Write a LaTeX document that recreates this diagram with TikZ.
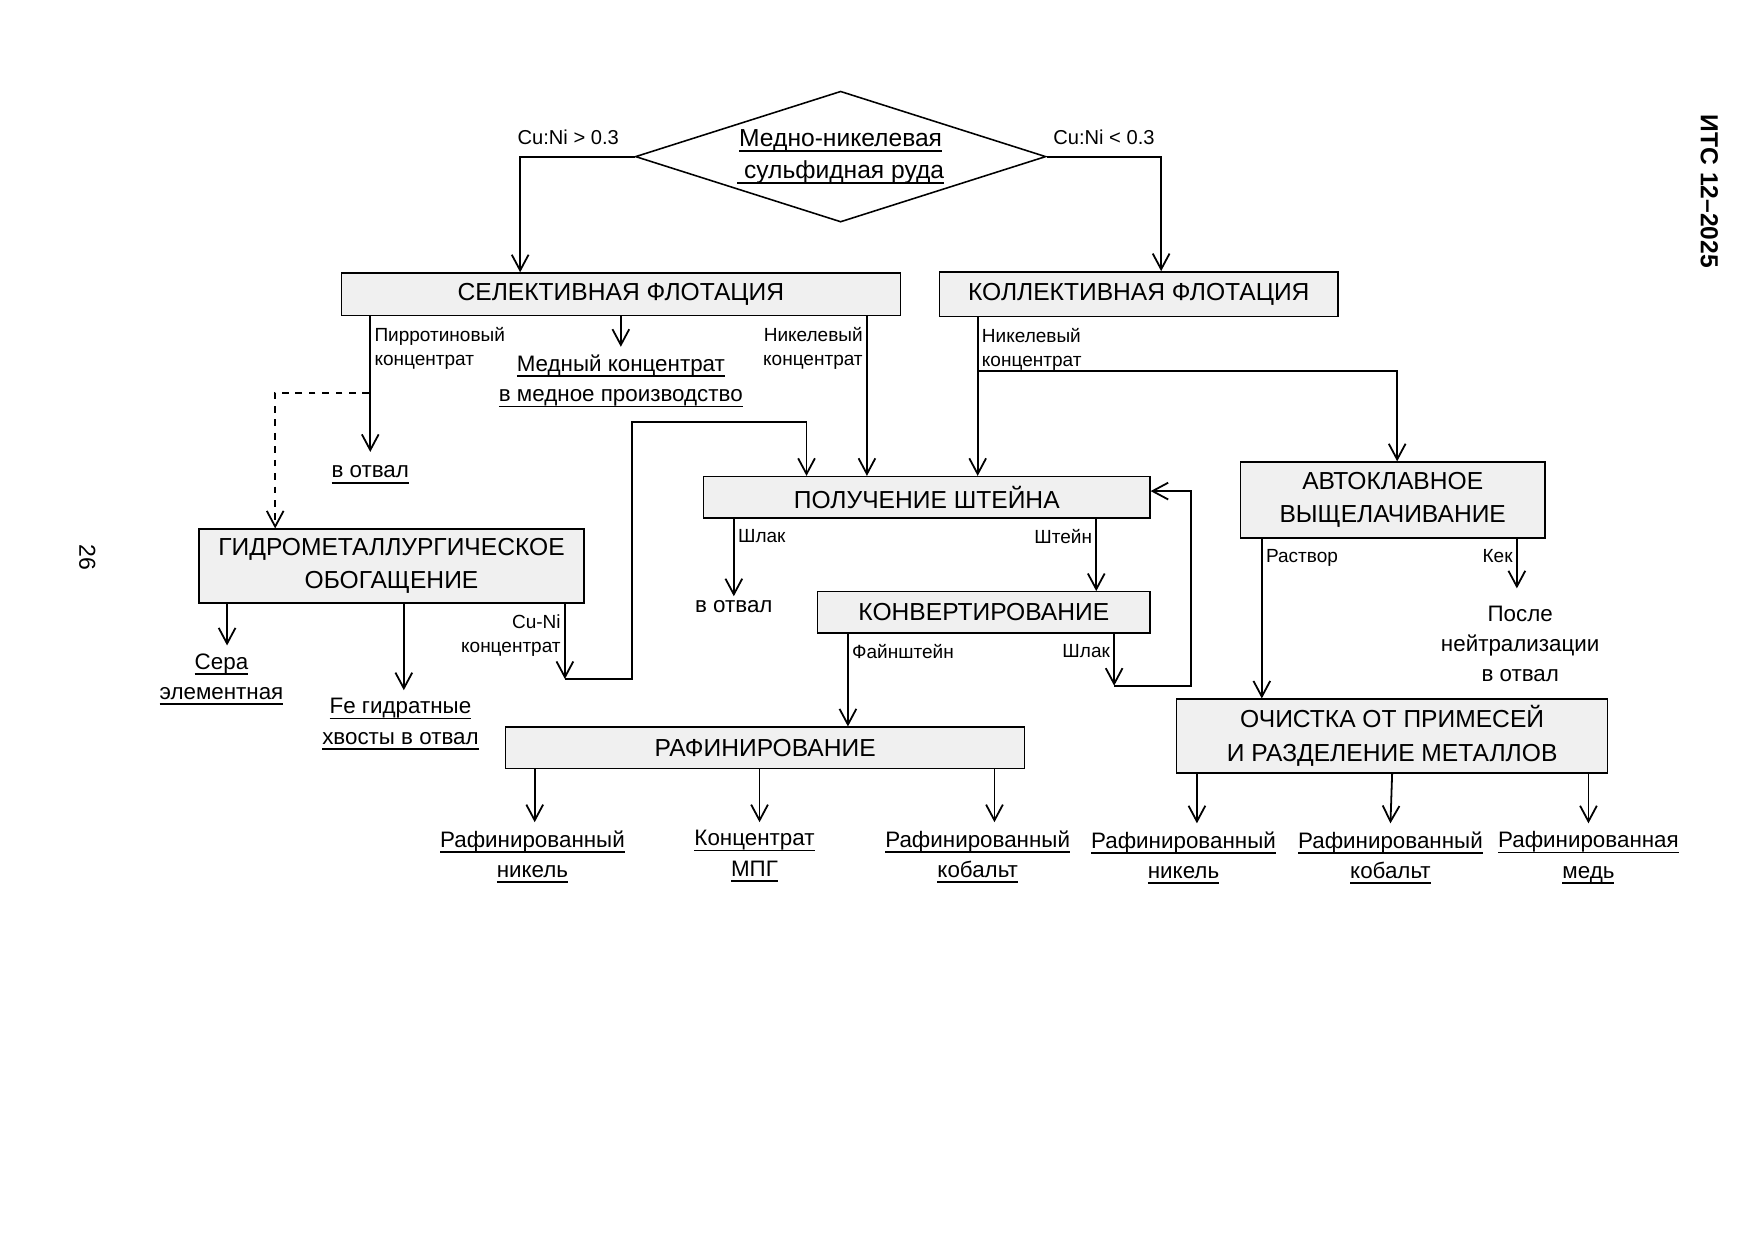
\documentclass[tikz,border=0pt]{standalone}
\usepackage{fontspec}
\setmainfont{Liberation Sans}
\usetikzlibrary{arrows.meta,shapes.geometric}
\definecolor{boxfill}{gray}{0.94}
\newcommand{\undl}[1]{\setbox0\hbox{#1}\rlap{\rule[-2.5pt]{\wd0}{0.8pt}}\box0}

\begin{document}
\begin{tikzpicture}[
        x=0.5pt, y=-0.5pt,
        procbox/.style={draw, fill=boxfill, line width=0.6pt, inner sep=0pt, align=center, font=\fontsize{11}{15}\selectfont},
        orenode/.style={diamond, draw, line width=0.7pt, inner sep=0pt, aspect=3.1, minimum width=183.5pt, minimum height=58.5pt, align=center, font=\fontsize{11}{14.5}\selectfont},
        outplain/.style={anchor=north, inner xsep=1pt, inner ysep=1.5pt, align=center, font=\fontsize{10}{13.5}\selectfont},
        outnode/.style={outplain, inner ysep=3.5pt, execute at begin node=\strut},
        flowlbl/.style={inner sep=1.5pt, yshift=-3pt, font=\fontsize{8.5}{11}\selectfont},
        condlbl/.style={above, inner sep=3pt, yshift=2pt, font=\fontsize{9}{11}\selectfont},
        arr/.style={-{Straight Barb[length=7pt,width=7.5pt]}, line width=0.8pt}
        ]
        \useasboundingbox (0,0) rectangle (1568,1109);
        % units: x and y given in pixels of the page
        \node[orenode]                                                  (ore)    at (751.5,140) {\undl{Медно-никелевая}\\\undl{\ сульфидная руда}};
        \node[procbox, minimum width=250pt,   minimum height=19pt]      (sel)    at (555,263)   {СЕЛЕКТИВНАЯ ФЛОТАЦИЯ};
        \node[procbox, minimum width=178pt,   minimum height=20pt]      (col)    at (1018,263)  {КОЛЛЕКТИВНАЯ ФЛОТАЦИЯ};
        \node[procbox, minimum width=199.5pt, minimum height=18.5pt]    (shtein) at (828.5,444.5) {ПОЛУЧЕНИЕ ШТЕЙНА};
        \node[procbox, minimum width=172pt,   minimum height=33pt]      (hydro)  at (350,506)   {ГИДРОМЕТАЛЛУРГИЧЕСКОЕ\\ОБОГАЩЕНИЕ};
        \node[procbox, minimum width=136pt,   minimum height=34pt]      (autoc)  at (1245,447)  {АВТОКЛАВНОЕ\\ВЫЩЕЛАЧИВАНИЕ};
        \node[procbox, minimum width=148.5pt, minimum height=18.5pt]    (konv)   at (879.5,547.5) {КОНВЕРТИРОВАНИЕ};
        \node[procbox, minimum width=232pt,   minimum height=18.5pt]    (rafin)  at (684,668.5) {РАФИНИРОВАНИЕ};
        \node[procbox, minimum width=192.5pt, minimum height=33pt]      (ochist) at (1244.5,658) {ОЧИСТКА ОТ ПРИМЕСЕЙ\\И РАЗДЕЛЕНИЕ МЕТАЛЛОВ};

        % products
        \node[outnode, inner ysep=2pt]      (otval1) at (331,404)   {\undl{в отвал}};
        \node[outnode]                      (cuconc) at (555,310)   {\undl{Медный концентрат}\\\undl{в медное производство}};
        \node[outnode]                      (sera)   at (198,577)   {\undl{Сера}\\\undl{элементная}};
        \node[outnode]                      (fehyd)  at (358,617)   {\undl{Fe гидратные}\\\undl{хвосты в отвал}};
        \node[outplain]                     (otval2) at (656,533)   {в отвал};
        \node[outnode, inner ysep=7.5pt]    (posle)  at (1359,526)  {После\\нейтрализации\\в отвал};
        \node[outnode]                      (rnik1)  at (476,735)   {\undl{Рафинированный}\\\undl{никель}};
        \node[outnode]                      (mpg)    at (674.5,735) {\undl{Концентрат}\\\undl{МПГ}};
        \node[outnode]                      (rcob1)  at (874,735)   {\undl{Рафинированный}\\\undl{кобальт}};
        \node[outnode]                      (rnik2)  at (1058,736)  {\undl{Рафинированный}\\\undl{никель}};
        \node[outnode]                      (rcob2)  at (1243,736)  {\undl{Рафинированный}\\\undl{кобальт}};
        \node[outnode]                      (rmed)   at (1420,736)  {\undl{Рафинированная}\\\undl{медь}};

        \node[rotate=-90, font=\fontsize{11}{13}\selectfont\bfseries] (doccode) at (1528,171) {ИТС 12–2025};
        \node[rotate=-90, font=\fontsize{10.3}{12}\selectfont]       (pagenum) at (78,498)   {26};

        \coordinate (pyrr)     at (330,351);
        \coordinate (colsplit) at (874,332);
        \coordinate (cuni)     at (505,607);
        \coordinate (loopL)    at (565,377);
        \coordinate (slag2)    at (996,613);
        \coordinate (loopR)    at (1065,439);

        % ore split
        \draw[arr] (ore.west) -| node[condlbl, pos=0.29] {Cu:Ni > 0.3} ([xshift=-45pt]sel.north);
        \draw[arr] (ore.east) -| node[condlbl, pos=0.25] {Cu:Ni < 0.3} ([xshift=10pt]col.north);

        % selective flotation
        \draw[arr] (sel.south -| otval1.north) -- node[flowlbl, pos=0, anchor=north west, align=left] {Пирротиновый\\концентрат} (otval1.north);
        \draw[arr, dashed] (pyrr) -| ([xshift=-52pt]hydro.north);
        \draw[arr] (sel.south) -- (cuconc.north);
        \draw[arr] ([xshift=110pt]sel.south) -- node[flowlbl, pos=0, anchor=north east, align=right] {Никелевый\\концентрат} ([xshift=110pt]sel.south |- shtein.north);

        % collective flotation
        \draw[arr] ([xshift=-72pt]col.south) -- node[flowlbl, pos=0, anchor=north west, align=left] {Никелевый\\концентрат} ([xshift=-72pt]col.south |- shtein.north);
        \draw[arr] (colsplit) -| ([xshift=2pt]autoc.north);

        % hydrometallurgy
        \draw[arr] ([xshift=-73.5pt]hydro.south) -- ([xshift=-73.5pt]hydro.south |- sera.north);
        \draw[arr] ([xshift=5.5pt]hydro.south) -- ([xshift=5.5pt]hydro.south |- fehyd.north);
        \draw[arr] (hydro.south -| cuni) -- node[flowlbl, pos=0, anchor=north east, align=right] {Cu-Ni\\концентрат} (cuni);
        \draw[arr] (cuni) -| (loopL) -| ([xshift=-53.75pt]shtein.north);

        % matte smelting and converting
        \draw[arr] (shtein.south -| otval2.north) -- node[flowlbl, pos=0, anchor=north west] {Шлак} (otval2.north);
        \draw[arr] ([xshift=75.75pt]shtein.south) -- node[flowlbl, pos=0, anchor=north east] {Штейн} ([xshift=75.75pt]shtein.south |- konv.north);
        \draw[arr] ([xshift=-60.75pt]konv.south) -- node[flowlbl, pos=0, anchor=north west] {Файнштейн} ([xshift=-60.75pt]konv.south |- rafin.north);
        \draw[arr] (konv.south -| slag2) -- node[flowlbl, pos=0, anchor=north east] {Шлак} (slag2);
        \draw[arr] (slag2) -| (loopR) -- (loopR -| shtein.east);

        % autoclave leaching
        \draw[arr] ([xshift=-58.5pt]autoc.south) -- node[flowlbl, pos=0, anchor=north west] {Раствор} ([xshift=-58.5pt]autoc.south |- ochist.north);
        \draw[arr] ([xshift=55.5pt]autoc.south) -- node[flowlbl, pos=0, anchor=north east] {Кек} ([xshift=55.5pt]autoc.south |- posle.north);

        % final products
        \draw[arr] ([xshift=-103pt]rafin.south) -- ([xshift=-103pt]rafin.south |- rnik1.north);
        \draw[arr] ([xshift=-2.5pt]rafin.south) -- ([xshift=-2.5pt]rafin.south |- mpg.north);
        \draw[arr] ([xshift=102.5pt]rafin.south) -- ([xshift=102.5pt]rafin.south |- rcob1.north);
        \draw[arr] ([xshift=-87.25pt]ochist.south) -- ([xshift=-87.25pt]ochist.south |- rnik2.north);
        \draw[arr] (ochist.south) -- (rcob2.north);
        \draw[arr] ([xshift=87.75pt]ochist.south) -- ([xshift=87.75pt]ochist.south |- rmed.north);
\end{tikzpicture}
\end{document}
